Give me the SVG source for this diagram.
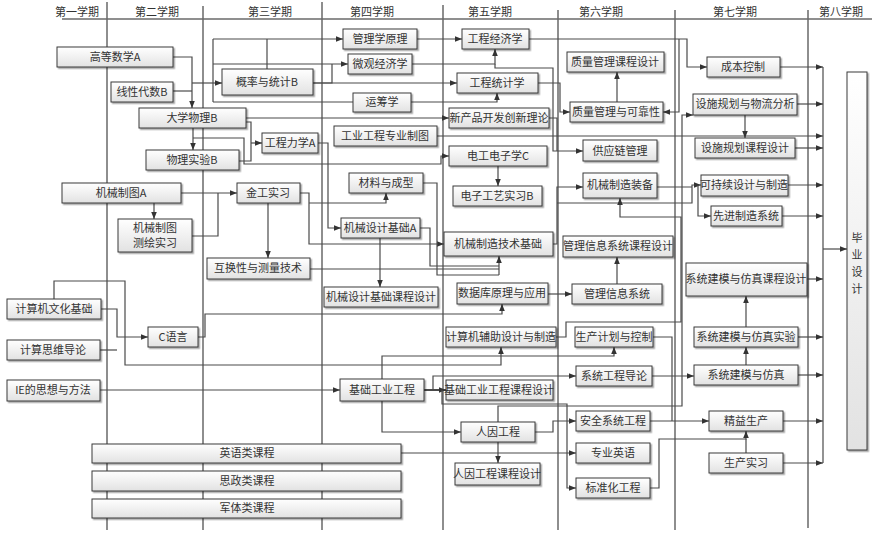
<svg xmlns="http://www.w3.org/2000/svg" width="876" height="540" viewBox="0 0 876 540">
<style>
.node rect{fill:url(#g);stroke:#3a3a3a;stroke-width:1;filter:url(#sh)}
.node text,.hdr{font-family:"Noto Sans CJK SC","Liberation Sans",sans-serif;font-size:11px;fill:#333;text-anchor:middle}
.col{stroke:#6a6a6a;stroke-width:1.5;fill:none}
.c path{fill:none;stroke:#4a4a4a;stroke-width:1.2}
.c .ar{marker-end:url(#a)}
</style>
<defs>
<linearGradient id="g" x1="0" y1="0" x2="0" y2="1"><stop offset="0" stop-color="#ffffff"/><stop offset="1" stop-color="#e2e2e2"/></linearGradient>
<filter id="sh" x="-10%" y="-20%" width="130%" height="160%"><feDropShadow dx="1.5" dy="1.5" stdDeviation="0.7" flood-color="#000" flood-opacity="0.35"/></filter>
<marker id="a" viewBox="0 0 10 10" refX="10" refY="5" markerWidth="7" markerHeight="7" markerUnits="userSpaceOnUse" orient="auto"><path d="M0,1 L10,5 L0,9 z" fill="#333"/></marker>
</defs>
<rect width="876" height="540" fill="#fff"/>
<g id="grid">
<path class="col" d="M62,19 H872"/>
<path class="col" d="M107,2 V530 M203,6 V530 M322,2 V530 M443,5 V530 M558,10 V530 M675,10 V530 M808,10 V528"/>
<text class="hdr" x="77" y="16">第一学期</text>
<text class="hdr" x="157" y="16">第二学期</text>
<text class="hdr" x="270" y="16">第三学期</text>
<text class="hdr" x="372" y="16">第四学期</text>
<text class="hdr" x="490" y="16">第五学期</text>
<text class="hdr" x="601" y="16">第六学期</text>
<text class="hdr" x="735" y="16">第七学期</text>
<text class="hdr" x="841" y="16">第八学期</text>
</g>
<g id="connectors" class="c">
<path class="ar" d="M173,57 H192 V108"/>
<path d="M173,91 H192"/>
<path class="ar" d="M192,83 H222"/>
<path d="M267,69 V39"/>
<path d="M213,39 V102"/>
<path class="ar" d="M213,39 H343"/>
<path class="ar" d="M213,64 H348"/>
<path d="M313,83 H332 V64"/>
<path class="ar" d="M313,83 H457"/>
<path d="M213,102 H353"/>
<path class="ar" d="M411,102 H497 V93"/>
<path class="ar" d="M417,39 H462"/>
<path class="ar" d="M412,64 H495 V49"/>
<path class="ar" d="M495,64 V68 H553 V151 H583"/>
<path class="ar" d="M538,83 H560 V112 H570"/>
<path d="M549,118 H557 V151"/>
<path class="ar" d="M529,39 H687 V67 H707"/>
<path class="ar" d="M679,39 V112 H663"/>
<path class="ar" d="M617,102 V72"/>
<path class="ar" d="M246,118 H449"/>
<path class="ar" d="M437,136 H823"/>
<path class="ar" d="M193,128 V150"/>
<path d="M246,122 H251 V161 H239"/>
<path class="ar" d="M251,143 H262"/>
<path class="ar" d="M193,138 H244 V164 H441 V156 H449"/>
<path class="ar" d="M318,143 H328 V228 H341"/>
<path class="ar" d="M181,193 H237"/>
<path class="ar" d="M154,203 V219"/>
<path d="M192,236 H218 V193"/>
<path class="ar" d="M300,193 H309 V244 H444"/>
<path class="ar" d="M309,203 H386 V193"/>
<path class="ar" d="M268,203 V258"/>
<path d="M423,183 H437 V275 H499"/>
<path d="M420,228 H430 V266 H499"/>
<path d="M310,269 H499"/>
<path class="ar" d="M499,275 V256"/>
<path class="ar" d="M380,238 V287"/>
<path class="ar" d="M498,166 V186"/>
<path class="ar" d="M553,244 H557 V187 H583"/>
<path class="ar" d="M557,203 H692 V185 H701"/>
<path d="M657,187 H692"/>
<path class="ar" d="M698,185 V216 H711"/>
<path class="ar" d="M556,337 H566 V322 H681 V217 H620 V198"/>
<path class="ar" d="M617,284 V257"/>
<path class="ar" d="M548,294 H572"/>
<path class="ar" d="M198,337 H205 V314 H502 V304"/>
<path class="ar" d="M101,309 H117 V337 H148"/>
<path d="M100,350 H117"/>
<path class="ar" d="M54,299 V281 H125 V365 H501 V347"/>
<path class="ar" d="M382,379 V356 H614 V347"/>
<path class="ar" d="M100,390 H340"/>
<path class="ar" d="M424,390 H446" style="stroke-width:2"/>
<path class="ar" d="M433,390 V376 H576"/>
<path class="ar" d="M442,390 V404 H567 V488 H576"/>
<path class="ar" d="M382,401 V432 H461"/>
<path class="ar" d="M498,422 V406 H682 V115 H693"/>
<path class="ar" d="M535,432 H553 V421 H576"/>
<path class="ar" d="M498,442 V463"/>
<path class="ar" d="M401,453 H576"/>
<path class="ar" d="M652,376 H694"/>
<path d="M653,337 H672 V421"/>
<path class="ar" d="M650,421 H709"/>
<path class="ar" d="M650,488 H659 V439 H746 V431"/>
<path d="M746,453 V439"/>
<path class="ar" d="M746,365 V347"/>
<path class="ar" d="M746,327 V296"/>
<path class="ar" d="M745,115 V138"/>
<path d="M823,67 V463"/>
<path class="ar" d="M780,67 H823"/>
<path class="ar" d="M797,104 H823"/>
<path class="ar" d="M795,148 H823"/>
<path class="ar" d="M788,185 H823"/>
<path class="ar" d="M782,216 H823"/>
<path class="ar" d="M807,279 H823"/>
<path class="ar" d="M798,337 H823"/>
<path class="ar" d="M798,375 H823"/>
<path class="ar" d="M783,421 H823"/>
<path class="ar" d="M783,463 H823"/>
<path class="ar" d="M823,249 H847"/>
</g>
<g id="n1" class="node"><rect x="57" y="47" width="116" height="20"/><text x="115" y="61">高等数学A</text></g>
<g id="n2" class="node"><rect x="111" y="82" width="62" height="20"/><text x="142" y="96">线性代数B</text></g>
<g id="n3" class="node"><rect x="139" y="108" width="107" height="20"/><text x="192" y="122">大学物理B</text></g>
<g id="n4" class="node"><rect x="146" y="150" width="93" height="20"/><text x="192" y="164">物理实验B</text></g>
<g id="n5" class="node"><rect x="222" y="69" width="91" height="26"/><text x="267" y="86">概率与统计B</text></g>
<g id="n6" class="node"><rect x="262" y="133" width="56" height="20"/><text x="290" y="147">工程力学A</text></g>
<g id="n7" class="node"><rect x="343" y="29" width="74" height="20"/><text x="380" y="43">管理学原理</text></g>
<g id="n8" class="node"><rect x="348" y="54" width="64" height="20"/><text x="380" y="68">微观经济学</text></g>
<g id="n9" class="node"><rect x="353" y="93" width="58" height="19"/><text x="382" y="106">运筹学</text></g>
<g id="n10" class="node"><rect x="334" y="126" width="103" height="20"/><text x="385" y="140">工业工程专业制图</text></g>
<g id="n11" class="node"><rect x="462" y="29" width="67" height="20"/><text x="495" y="43">工程经济学</text></g>
<g id="n12" class="node"><rect x="457" y="73" width="81" height="20"/><text x="497" y="87">工程统计学</text></g>
<g id="n13" class="node"><rect x="449" y="108" width="100" height="20"/><text x="499" y="122">新产品开发创新理论</text></g>
<g id="n14" class="node"><rect x="449" y="146" width="98" height="20"/><text x="498" y="160">电工电子学C</text></g>
<g id="n15" class="node"><rect x="453" y="186" width="89" height="20"/><text x="497" y="200">电子工艺实习B</text></g>
<g id="n16" class="node"><rect x="349" y="173" width="74" height="20"/><text x="386" y="187">材料与成型</text></g>
<g id="n17" class="node"><rect x="341" y="218" width="79" height="20"/><text x="380" y="232">机械设计基础A</text></g>
<g id="n18" class="node"><rect x="444" y="232" width="109" height="24"/><text x="498" y="248">机械制造技术基础</text></g>
<g id="n19" class="node"><rect x="324" y="287" width="114" height="20"/><text x="381" y="301">机械设计基础课程设计</text></g>
<g id="n20" class="node"><rect x="457" y="283" width="91" height="21"/><text x="502" y="297">数据库原理与应用</text></g>
<g id="n21" class="node"><rect x="446" y="327" width="110" height="20"/><text x="501" y="341">计算机辅助设计与制造</text></g>
<g id="n22" class="node"><rect x="237" y="183" width="63" height="20"/><text x="268" y="197">金工实习</text></g>
<g id="n23" class="node"><rect x="62" y="183" width="119" height="20"/><text x="121" y="197">机械制图A</text></g>
<g id="n24" class="node"><rect x="118" y="219" width="74" height="33"/><text x="155" y="232">机械制图</text><text x="155" y="247">测绘实习</text></g>
<g id="n25" class="node"><rect x="207" y="258" width="103" height="21"/><text x="258" y="272">互换性与测量技术</text></g>
<g id="n26" class="node"><rect x="7" y="299" width="94" height="20"/><text x="54" y="313">计算机文化基础</text></g>
<g id="n27" class="node"><rect x="7" y="340" width="93" height="20"/><text x="53" y="354">计算思维导论</text></g>
<g id="n28" class="node"><rect x="148" y="327" width="50" height="20"/><text x="173" y="341">C语言</text></g>
<g id="n29" class="node"><rect x="7" y="380" width="93" height="21"/><text x="53" y="394">IE的思想与方法</text></g>
<g id="n30" class="node"><rect x="340" y="379" width="84" height="22"/><text x="382" y="394">基础工业工程</text></g>
<g id="n31" class="node"><rect x="446" y="380" width="107" height="20"/><text x="499" y="394">基础工业工程课程设计</text></g>
<g id="n32" class="node"><rect x="461" y="422" width="74" height="20"/><text x="498" y="436">人因工程</text></g>
<g id="n33" class="node"><rect x="455" y="463" width="85" height="22"/><text x="497" y="478">人因工程课程设计</text></g>
<g id="n34" class="node"><rect x="92" y="444" width="309" height="19"/><text x="247" y="457">英语类课程</text></g>
<g id="n35" class="node"><rect x="92" y="471" width="309" height="20"/><text x="247" y="485">思政类课程</text></g>
<g id="n36" class="node"><rect x="92" y="499" width="309" height="19"/><text x="247" y="512">军体类课程</text></g>
<g id="n37" class="node"><rect x="567" y="52" width="97" height="20"/><text x="615" y="66">质量管理课程设计</text></g>
<g id="n38" class="node"><rect x="570" y="102" width="93" height="20"/><text x="616" y="116">质量管理与可靠性</text></g>
<g id="n39" class="node"><rect x="583" y="140" width="74" height="21"/><text x="620" y="155">供应链管理</text></g>
<g id="n40" class="node"><rect x="583" y="173" width="74" height="25"/><text x="620" y="189">机械制造装备</text></g>
<g id="n41" class="node"><rect x="563" y="236" width="110" height="21"/><text x="618" y="250">管理信息系统课程设计</text></g>
<g id="n42" class="node"><rect x="572" y="284" width="90" height="20"/><text x="617" y="298">管理信息系统</text></g>
<g id="n43" class="node"><rect x="575" y="327" width="78" height="20"/><text x="614" y="341">生产计划与控制</text></g>
<g id="n44" class="node"><rect x="576" y="366" width="76" height="20"/><text x="614" y="380">系统工程导论</text></g>
<g id="n45" class="node"><rect x="576" y="411" width="74" height="20"/><text x="613" y="425">安全系统工程</text></g>
<g id="n46" class="node"><rect x="576" y="443" width="74" height="20"/><text x="613" y="457">专业英语</text></g>
<g id="n47" class="node"><rect x="576" y="478" width="74" height="20"/><text x="613" y="492">标准化工程</text></g>
<g id="n48" class="node"><rect x="707" y="57" width="73" height="20"/><text x="743" y="71">成本控制</text></g>
<g id="n49" class="node"><rect x="693" y="94" width="104" height="21"/><text x="745" y="108">设施规划与物流分析</text></g>
<g id="n50" class="node"><rect x="695" y="138" width="100" height="20"/><text x="745" y="152">设施规划课程设计</text></g>
<g id="n51" class="node"><rect x="701" y="175" width="87" height="21"/><text x="744" y="189">可持续设计与制造</text></g>
<g id="n52" class="node"><rect x="711" y="206" width="71" height="20"/><text x="746" y="220">先进制造系统</text></g>
<g id="n53" class="node"><rect x="686" y="263" width="121" height="33"/><text x="746" y="283">系统建模与仿真课程设计</text></g>
<g id="n54" class="node"><rect x="694" y="327" width="104" height="20"/><text x="746" y="341">系统建模与仿真实验</text></g>
<g id="n55" class="node"><rect x="694" y="365" width="104" height="20"/><text x="746" y="379">系统建模与仿真</text></g>
<g id="n56" class="node"><rect x="709" y="411" width="74" height="20"/><text x="746" y="425">精益生产</text></g>
<g id="n57" class="node"><rect x="709" y="453" width="74" height="20"/><text x="746" y="467">生产实习</text></g>
<g id="n58" class="node"><rect x="847" y="72" width="20" height="378"/><text x="857" y="242">毕</text><text x="857" y="259">业</text><text x="857" y="276">设</text><text x="857" y="293">计</text></g>
</svg>
